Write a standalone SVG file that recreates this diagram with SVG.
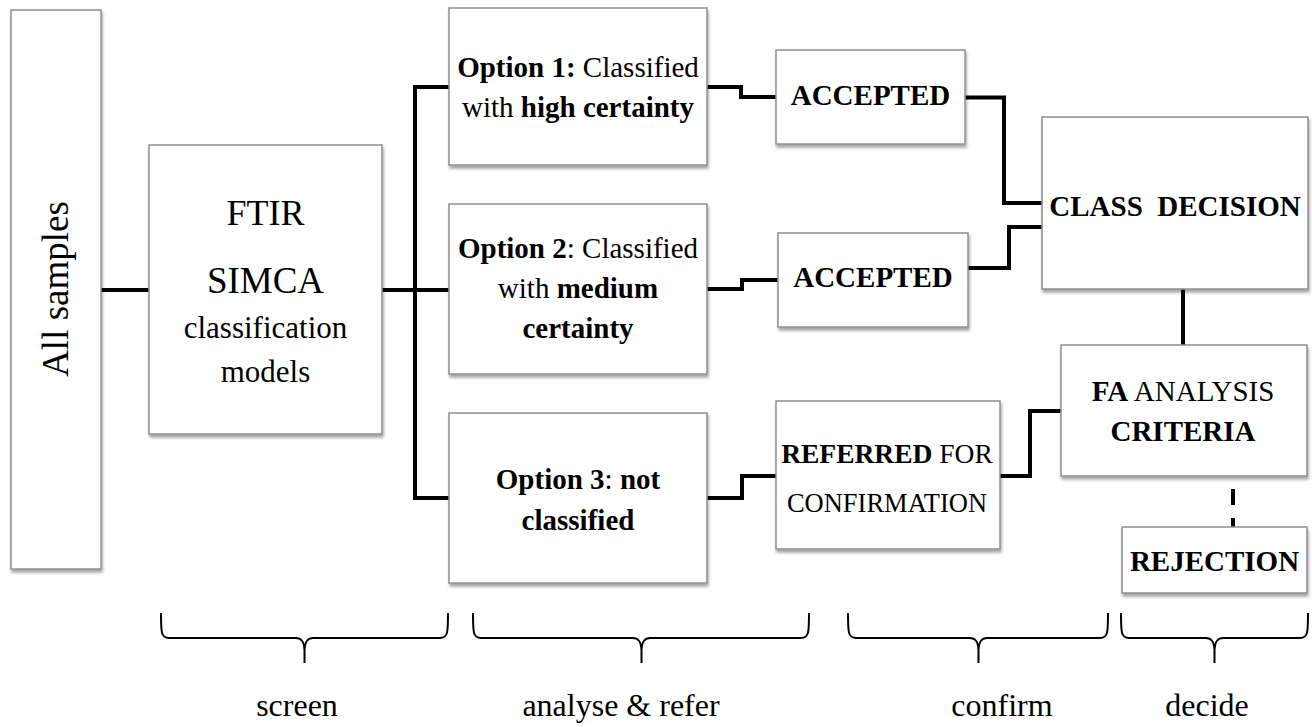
<svg xmlns="http://www.w3.org/2000/svg" width="1312" height="727" viewBox="0 0 1312 727">
<defs>
<filter id="sh" x="-10%" y="-10%" width="125%" height="130%">
<feDropShadow dx="1" dy="3" stdDeviation="1.8" flood-color="#000" flood-opacity="0.35"/>
</filter>
<style>
.box{fill:#fff;stroke:#8f8f8f;stroke-width:1.5;filter:url(#sh)}
text{font-family:"Liberation Serif","Times New Roman",serif;fill:#000;text-anchor:middle}
.t{font-size:29px}
.b{font-weight:bold}
.con{fill:none;stroke:#000;stroke-width:4;stroke-linejoin:miter}
.dash{fill:none;stroke:#000;stroke-width:4;stroke-dasharray:16 13}
.brace{fill:none;stroke:#000;stroke-width:2}
.lab{font-size:32px}
</style>
</defs>
<rect width="1312" height="727" fill="#fff"/>

<g id="connectors">
<path class="con" d="M101,290 H149"/>
<path class="con" d="M382,290 H415"/>
<path class="con" d="M449,87 H415 V498 H449"/>
<path class="con" d="M415,290 H449"/>
<path class="con" d="M707,87 H741 V97 H776"/>
<path class="con" d="M707,289 H742 V280 H778"/>
<path class="con" d="M707,498 H742 V476 H776"/>
<path class="con" d="M965,97.5 H1004 V203 H1042"/>
<path class="con" d="M968,268 H1009 V227 H1045"/>
<path class="con" d="M1000,476 H1030 V411 H1061"/>
<path class="con" d="M1183,289 V345"/>
<path class="dash" d="M1233,489 V527"/>
</g>

<g id="all-samples">
<rect class="box" x="11" y="10" width="90" height="559"/>
<text transform="translate(68,289) rotate(-90)" font-size="37">All samples</text>
</g>

<g id="ftir">
<rect class="box" x="149" y="145" width="233" height="289"/>
<text x="265.5" y="225" font-size="36">FTIR</text>
<text x="265.5" y="293" font-size="37">SIMCA</text>
<text x="265.5" y="338" font-size="31">classification</text>
<text x="265.5" y="382" font-size="31">models</text>
</g>

<g id="option1">
<rect class="box" x="449" y="8" width="258" height="157"/>
<text class="t" x="578" y="77"><tspan class="b">Option 1:</tspan> Classified</text>
<text class="t" x="578" y="117">with <tspan class="b">high certainty</tspan></text>
</g>

<g id="option2">
<rect class="box" x="449" y="204" width="258" height="170"/>
<text class="t" x="578" y="258"><tspan class="b">Option 2</tspan>: Classified</text>
<text class="t" x="578" y="298">with <tspan class="b">medium</tspan></text>
<text class="t b" x="578" y="338">certainty</text>
</g>

<g id="option3">
<rect class="box" x="449" y="413" width="258" height="170"/>
<text class="t" x="578" y="489"><tspan class="b">Option 3</tspan>: <tspan class="b">not</tspan></text>
<text class="t b" x="578" y="530">classified</text>
</g>

<g id="accepted1">
<rect class="box" x="776" y="50" width="189" height="94"/>
<text class="t b" x="870.5" y="105">ACCEPTED</text>
</g>

<g id="accepted2">
<rect class="box" x="778" y="233" width="190" height="94"/>
<text class="t b" x="873" y="287">ACCEPTED</text>
</g>

<g id="referred">
<rect class="box" x="776" y="401" width="224" height="148"/>
<text x="887" y="463" font-size="27.5"><tspan class="b">REFERRED</tspan> FOR</text>
<text x="887" y="512" font-size="26.5">CONFIRMATION</text>
</g>

<g id="class-decision">
<rect class="box" x="1042" y="117" width="266" height="172"/>
<text class="t b" x="1175" y="216" xml:space="preserve">CLASS  DECISION</text>
</g>

<g id="fa-analysis">
<rect class="box" x="1061" y="345" width="246" height="131"/>
<text class="t" x="1183" y="401"><tspan class="b">FA</tspan> ANALYSIS</text>
<text class="t b" x="1183" y="441">CRITERIA</text>
</g>

<g id="rejection">
<rect class="box" x="1122" y="527" width="185" height="66"/>
<text class="t b" x="1214.5" y="571">REJECTION</text>
</g>

<g id="braces">
<path class="brace" d="M161,613 C161,632 161,638 169,638 L296,638 C302,638 304,642 304.5,650 L304.5,663 M304.5,650 C305,642 307,638 313,638 L440,638 C448,638 448,632 448,613"/>
<path class="brace" d="M473,613 C473,632 473,638 481,638 L633,638 C639,638 641,642 641.5,650 L641.5,663 M641.5,650 C642,642 644,638 650,638 L801,638 C809,638 809,632 809,613"/>
<path class="brace" d="M848,613 C848,632 848,638 856,638 L970,638 C976,638 978,642 978.5,650 L978.5,663 M978.5,650 C979,642 981,638 987,638 L1100,638 C1108,638 1108,632 1108,613"/>
<path class="brace" d="M1121,613 C1121,632 1121,638 1129,638 L1206,638 C1212,638 1214,642 1214.5,650 L1214.5,663 M1214.5,650 C1215,642 1217,638 1223,638 L1300,638 C1308,638 1308,632 1308,613"/>
</g>

<g id="labels">
<text class="lab" x="297" y="716">screen</text>
<text class="lab" x="621" y="716">analyse &amp; refer</text>
<text class="lab" x="1002" y="716">confirm</text>
<text class="lab" x="1207" y="716">decide</text>
</g>
</svg>
